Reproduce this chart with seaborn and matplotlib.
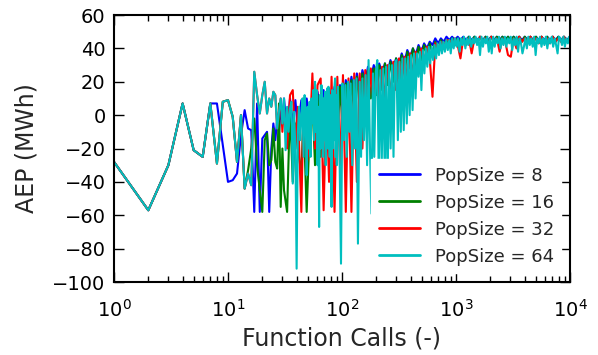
import seaborn as sns
import matplotlib.pyplot as plt
import matplotlib.ticker as mticker
import pandas as pd

# first evaluations are the same for every population size
x_start = [1, 2, 3, 4, 5, 6, 7]
y_start = [-28, -57, -30, 7, -21, -25, 7]

x_early = list(range(8, 30))

# function-call checkpoints (PopSize 8/16/32)
x_calls = [30, 31, 33, 35, 37, 39, 41, 44, 46, 49,
           52, 55, 58, 61, 65, 69, 73, 77, 81, 86,
           91, 96, 102, 108, 114, 121, 128, 135, 143, 151,
           160, 169, 179, 190, 201, 212, 225, 238, 252, 266,
           282, 298, 316, 334, 354, 374, 396, 419, 443, 469,
           496, 525, 556, 588, 622, 658, 697, 737, 780, 825,
           873, 924, 977, 1034, 1094, 1158, 1225, 1296, 1372, 1451,
           1536, 1625, 1719, 1819, 1925, 2037, 2155, 2281, 2413, 2553,
           2702, 2859, 3025, 3201, 3387, 3584, 3792, 4012, 4246, 4492,
           4754, 5030, 5322, 5631, 5959, 6305, 6672, 7060, 7470, 7904,
           8364, 8850, 9364, 10000]

# PopSize 64 is sampled more finely (it sits on top)
x_calls_64 = list(range(30, 91)) + [
    92, 95, 98, 101, 104, 107, 110, 113, 116, 119,
    123, 127, 130, 134, 138, 143, 147, 151, 156, 161,
    166, 171, 176, 181, 187, 192, 198, 204, 210, 217,
    223, 230, 237, 244, 251, 259, 267, 275, 283, 291,
    300, 309, 319, 328, 338, 348, 359, 370, 381, 392,
    404, 416, 429, 442, 455, 469, 483, 497, 512, 528,
    543, 560, 577, 594, 612, 630, 649, 669, 689, 709,
    731, 753, 775, 799, 823, 847, 873, 899, 926, 954,
    982, 1012, 1042, 1074, 1106, 1139, 1173, 1208, 1245, 1282,
    1320, 1360, 1401, 1443, 1486, 1531, 1577, 1624, 1673, 1723,
    1775, 1828, 1883, 1939, 1997, 2057, 2119, 2183, 2248, 2316,
    2385, 2457, 2530, 2606, 2684, 2765, 2848, 2933, 3021, 3112,
    3205, 3301, 3400, 3502, 3607, 3716, 3827, 3942, 4060, 4182,
    4308, 4437, 4570, 4707, 4848, 4994, 5143, 5298, 5457, 5620,
    5789, 5962, 6141, 6325, 6515, 6711, 6912, 7119, 7333, 7553,
    7780, 8013, 8253, 8501, 8756, 9019, 9289, 9568, 9855, 10000]

aep_8_early = [7, -18, -40, -39, -35, -12, 3, -8, -9, -58, 7,
               -58, -14, -12, -10, -58, -20, -5, -15, -3, -10, 5]
aep_8 = [-5, 10, -10, 10, -5, 9, -8, 9, -5, 10,
         -3, 12, 0, 14, 2, 15, 3, 16, 4, 17,
         5, 18, 8, 21, 10, 23, 12, 25, 15, 27,
         20, 29, 22, 30, 23, 31, 25, 31, 26, 33,
         28, 34, 30, 37, 32, 39, 35, 40, 36, 42,
         38, 43, 40, 44, 42, 46, 43, 46, 44, 47,
         45, 47, 45, 47, 45, 47, 45, 47, 45, 47,
         45, 47, 45, 47, 45, 47, 45, 47, 45, 47,
         45, 47, 45, 47, 45, 47, 45, 47, 45, 47,
         45, 47, 45, 47, 45, 47, 45, 47, 45, 47,
         45, 47, 45, 47]

aep_16_early = [-29, 8, 9, -1, -28, 0, -44, -33, -20, -2, -30,
                -45, -58, -15, -11, -30, -27, -8, -28, -32, 7, -55]
aep_16 = [-20, -45, -58, 5, -40, -5, -20, -35, 0, -58,
          -10, 8, -30, 12, -25, 10, -20, 14, -25, 15,
          -15, 17, -10, 19, -5, 21, 0, 23, 5, 25,
          5, 27, 10, 28, 12, 30, 15, 31, 18, 32,
          20, 34, 22, 36, 25, 38, 28, 40, 30, 41,
          33, 42, 35, 43, 37, 44, 38, 45, 40, 45,
          41, 46, 42, 46, 43, 46, 43, 47, 44, 47,
          44, 47, 44, 47, 44, 47, 44, 47, 44, 47,
          44, 47, 44, 47, 44, 47, 44, 47, 44, 47,
          44, 47, 44, 47, 44, 47, 44, 47, 44, 47,
          44, 47, 44, 47]

aep_32_early = [-29, 8, 9, -1, -28, 0, -44, -35, -42, 26, 12,
                1, 12, 20, 1, 10, 5, 14, 12, -8, 2, 10]
aep_32 = [-10, 5, -20, 12, 15, -20, 5, -58, 10, -30,
          -15, 25, -20, 18, 22, -57, 10, -40, 23, -58,
          23, -30, 24, -58, 22, -58, 25, -40, 25, -20,
          27, 0, 28, 5, 29, 8, 29, 10, 30, 12,
          32, 15, 34, 18, 35, 20, 37, 25, 38, 28,
          40, 32, 41, 34, 11, 43, 38, 44, 40, 45,
          45, 41, 46, 42, 34, 46, 42, 46, 37, 46,
          43, 47, 44, 46, 43, 47, 44, 46, 38, 46,
          44, 36, 35, 46, 40, 47, 44, 46, 43, 47,
          44, 46, 43, 47, 44, 46, 43, 47, 44, 46,
          44, 47, 44, 46]

aep_64_early = [-29, 8, 9, -1, -28, 0, -44, -35, -42, 26, 12,
                1, 12, 20, 1, 10, 5, 14, 12, -8, 2, 10]
aep_64 = [-5, 10, -21, 5, -10, 4, 8, -41, 2, -20,
          -92, -10, 5, -15, -1, 10, -25, 12, 0, -36,
          5, -20, 8, -25, 10, -5, 15, -15, 20, -10,
          15, -30, 5, -67, 12, -20, 18, 11, -25, 10,
          -15, 14, -30, 8, 16, -20, 17, 0, -25, 12,
          -10, -55, 15, -20, 10, -15, 18, 22, -25, 12,
          -30,
          17, -20, -89, 19, -15, 18, -25, 20, -10, 19,
          -30, 21, -20, 22, -77, 20, -25, 22, -15, 24,
          -30, 33, -20, -59, 25, -25, 26, 33, -35, 27,
          -30, 28, -35, 29, -41, 30, -20, 30, -25, 31,
          33, -15, 32, -10, 34, -9, 34, -5, 35, 0,
          36, 3, 37, 10, 37, 23, 38, 15, 39, 25,
          40, 29, 41, 31, 41, 33, 42, 34, 43, 36,
          44, 37, 44, 38, 45, 39, 45, 37, 46, 40,
          46, 41, 46, 38, 46, 42, 47, 40, 46, 42,
          47, 41, 46, 43, 47, 42, 46, 36, 47, 41,
          46, 43, 47, 38, 46, 37, 47, 41, 46, 43,
          47, 40, 46, 42, 47, 41, 46, 43, 47, 39,
          46, 42, 47, 38, 46, 43, 37, 41, 46, 40,
          47, 42, 46, 41, 47, 36, 46, 43, 47, 41,
          46, 42, 47, 40, 46, 43, 47, 41, 46, 42,
          37, 47, 46, 42, 47, 41, 46, 43, 47, 44]

pop_labels = ["PopSize = 8", "PopSize = 16", "PopSize = 32", "PopSize = 64"]
colors = ["#0000ff", "#008000", "#ff0000", "#00bfbf"]

series = [
    (pop_labels[0], x_calls, aep_8_early + aep_8),
    (pop_labels[1], x_calls, aep_16_early + aep_16),
    (pop_labels[2], x_calls, aep_32_early + aep_32),
    (pop_labels[3], x_calls_64, aep_64_early + aep_64),
]

rows = []
for lab, xc, vals in series:
    xs = x_start + x_early + xc
    ys = y_start + vals
    for xv, yv in zip(xs, ys):
        rows.append({"calls": xv, "aep": yv, "pop": lab})
df = pd.DataFrame(rows)

sns.set_style("ticks")
plt.rcParams['font.family'] = ['DejaVu Sans']

fig = plt.figure(figsize=(5.98, 3.55), dpi=100)
ax = fig.add_axes([0.1906, 0.2056, 0.7626, 0.7521])

sns.lineplot(data=df, x="calls", y="aep", hue="pop", hue_order=pop_labels,
             palette=colors, estimator=None, sort=False, linewidth=1.5, ax=ax)

ax.set_xscale("log")
ax.set_xlim(1, 1e4)
ax.set_ylim(-100, 60)
ax.set_yticks(range(-100, 61, 20))
ax.xaxis.set_major_locator(mticker.LogLocator(base=10, numticks=10))
ax.xaxis.set_minor_locator(mticker.LogLocator(base=10, subs=range(2, 10), numticks=40))
ax.xaxis.set_minor_formatter(mticker.NullFormatter())
ax.set_xlabel("Function Calls (-)", fontsize=17)
ax.set_ylabel("AEP (MWh)", fontsize=17, labelpad=10)

for sp in ax.spines.values():
    sp.set_visible(True)
    sp.set_linewidth(1.5)
    sp.set_color("black")
ax.tick_params(which="both", direction="in", top=True, right=True,
               bottom=True, left=True, colors="black")
ax.tick_params(which="major", length=7, width=1, labelsize=14)
ax.tick_params(which="minor", length=4, width=1)
ax.tick_params(axis="x", which="major", pad=12)
ax.tick_params(axis="y", which="major", pad=6)

handles, labels = ax.get_legend_handles_labels()
leg = ax.legend(handles, labels, loc="lower right", fontsize=13, frameon=True,
                framealpha=1, edgecolor="white", fancybox=False, handlelength=2.3)
for h in leg.get_lines():
    h.set_linewidth(2)

fig.savefig("out.png", dpi=100)
